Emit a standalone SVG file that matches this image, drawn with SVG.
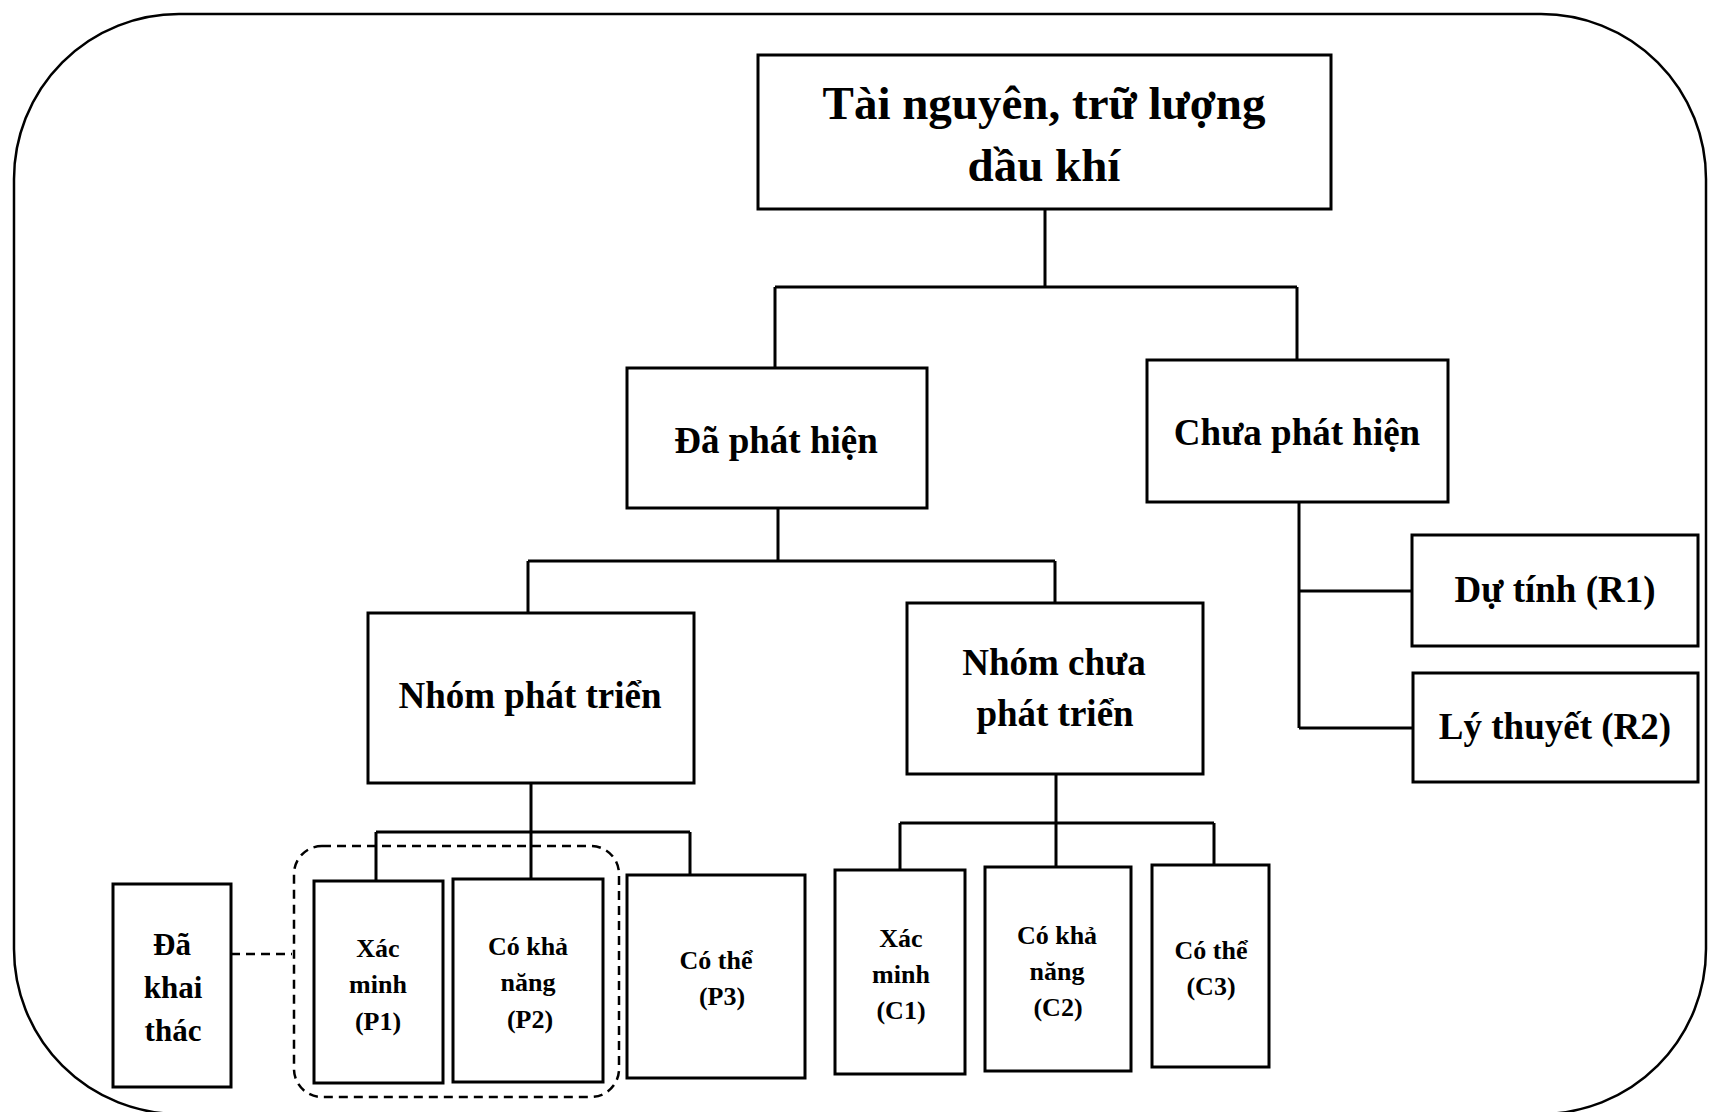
<svg xmlns="http://www.w3.org/2000/svg" width="1710" height="1112" viewBox="0 0 1710 1112">
<style>
.b{fill:#fff;stroke:#000;stroke-width:3}
.t{font-family:"Liberation Serif","Times New Roman",serif;font-weight:bold;fill:#000;text-anchor:middle;dominant-baseline:central}
.m{font-size:37px}
.s{font-size:26px}
.c{fill:none;stroke:#000;stroke-width:3}
.d{fill:none;stroke:#000;stroke-width:2.5;stroke-dasharray:9 6}
</style>
<rect width="1710" height="1112" fill="#fff"/>
<rect x="14" y="14" width="1692" height="1100" rx="165" ry="165" fill="none" stroke="#000" stroke-width="2.5"/>
<g id="connectors">
<path class="c" d="M1045 209V287M775 287H1297M775 287V368M1297 287V360"/>
<path class="c" d="M778 508V561M528 561H1055M528 561V613M1055 561V603"/>
<path class="c" d="M1299 502V728M1299 591H1412M1299 728H1413"/>
<path class="c" d="M531 783V879M376 832H690M376 832V881M690 832V876"/>
<path class="c" d="M1056 774V867M900 823H1214M900 823V870M1214 823V865"/>
<path class="d" d="M231 954H292"/>
<rect class="d" x="294" y="846" width="325" height="251" rx="28"/>
</g>
<g id="n-root"><rect class="b" x="758" y="55" width="573" height="154"/><text class="t" x="1044" y="103" font-size="47">Tài nguyên, trữ lượng</text><text class="t" x="1044" y="165" font-size="47">dầu khí</text></g>
<g id="n-daphathien"><rect class="b" x="627" y="368" width="300" height="140"/><text class="t m" x="776" y="440">Đã phát hiện</text></g>
<g id="n-chuaphathien"><rect class="b" x="1147" y="360" width="301" height="142"/><text class="t m" x="1297" y="432">Chưa phát hiện</text></g>
<g id="n-nhompt"><rect class="b" x="368" y="613" width="326" height="170"/><text class="t m" x="530" y="695">Nhóm phát triển</text></g>
<g id="n-nhomcpt"><rect class="b" x="907" y="603" width="296" height="171"/><text class="t m" x="1054" y="662">Nhóm chưa</text><text class="t m" x="1055" y="713">phát triển</text></g>
<g id="n-r1"><rect class="b" x="1412" y="535" width="286" height="111"/><text class="t m" x="1555" y="589">Dự tính (R1)</text></g>
<g id="n-r2"><rect class="b" x="1413" y="673" width="285" height="109"/><text class="t m" x="1555" y="726">Lý thuyết (R2)</text></g>
<g id="n-khaithac"><rect class="b" x="113" y="884" width="118" height="203"/><text class="t" x="172" y="944" font-size="31">Đã</text><text class="t" x="173" y="987" font-size="31">khai</text><text class="t" x="173" y="1030" font-size="31">thác</text></g>
<g id="n-p1"><rect class="b" x="314" y="881" width="129" height="202"/><text class="t s" x="378" y="948">Xác</text><text class="t s" x="378" y="984">minh</text><text class="t s" x="378" y="1021">(P1)</text></g>
<g id="n-p2"><rect class="b" x="453" y="879" width="150" height="203"/><text class="t s" x="528" y="946">Có khả</text><text class="t s" x="528" y="982">năng</text><text class="t s" x="530" y="1019">(P2)</text></g>
<g id="n-p3"><rect class="b" x="627" y="875" width="178" height="203"/><text class="t s" x="716" y="960">Có thể</text><text class="t s" x="722" y="996">(P3)</text></g>
<g id="n-c1"><rect class="b" x="835" y="870" width="130" height="204"/><text class="t s" x="901" y="938">Xác</text><text class="t s" x="901" y="974">minh</text><text class="t s" x="901" y="1010">(C1)</text></g>
<g id="n-c2"><rect class="b" x="985" y="867" width="146" height="204"/><text class="t s" x="1057" y="935">Có khả</text><text class="t s" x="1057" y="971">năng</text><text class="t s" x="1058" y="1007">(C2)</text></g>
<g id="n-c3"><rect class="b" x="1152" y="865" width="117" height="202"/><text class="t s" x="1211" y="950">Có thể</text><text class="t s" x="1211" y="986">(C3)</text></g>
</svg>
